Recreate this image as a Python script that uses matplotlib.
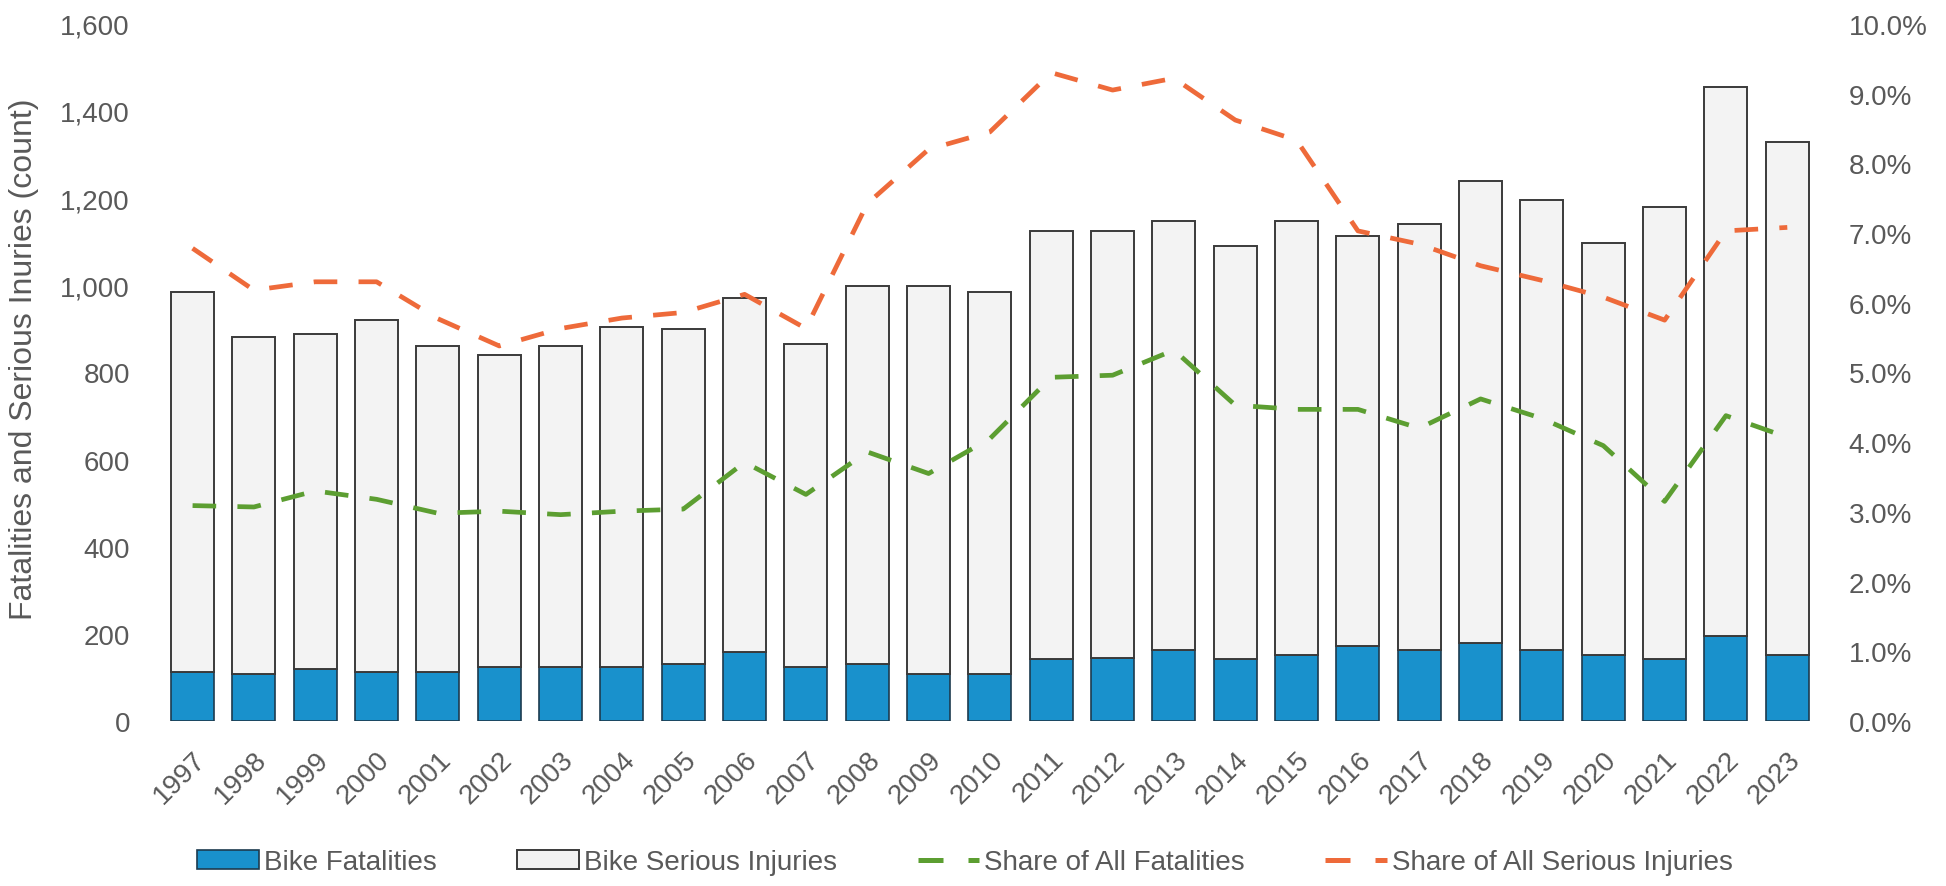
import numpy as np
import matplotlib.pyplot as plt
from matplotlib.patches import Patch
from matplotlib.lines import Line2D
from matplotlib.ticker import FuncFormatter

years = [str(y) for y in range(1997, 2024)]
bike_fatalities = [113, 109, 119, 113, 113, 123, 123, 123, 131, 159, 123, 131, 108, 108,
                   142, 145, 164, 142, 152, 173, 164, 178, 164, 152, 142, 196, 152]
bike_serious = [872, 772, 769, 807, 747, 716, 737, 781, 769, 812, 742, 867, 890, 877,
                982, 979, 983, 949, 995, 941, 977, 1062, 1032, 945, 1037, 1260, 1176]
share_fatalities = [3.09, 3.07, 3.30, 3.18, 2.98, 3.01, 2.96, 3.01, 3.04, 3.71, 3.25, 3.86,
                    3.55, 4.05, 4.93, 4.96, 5.32, 4.53, 4.47, 4.47, 4.20, 4.62, 4.34, 3.95,
                    3.15, 4.38, 4.07]
share_serious = [6.78, 6.18, 6.30, 6.30, 5.77, 5.38, 5.63, 5.78, 5.86, 6.12, 5.63, 7.42,
                 8.20, 8.45, 9.30, 9.05, 9.22, 8.62, 8.33, 7.03, 6.84, 6.53, 6.32, 6.08,
                 5.75, 7.03, 7.08]

blue = '#1991CC'
green = '#5C9E31'
orange = '#EE6A3A'
grey = '#595959'

plt.rcParams['font.family'] = ['Liberation Sans', 'DejaVu Sans']
fs = 20

fig = plt.figure(figsize=(19.46, 8.87), dpi=100)
ax = fig.add_axes([0.0832, 0.186, 0.851, 0.786])
ax2 = ax.twinx()

x = np.arange(len(years))
w = 0.70
ax.bar(x, bike_fatalities, w, color=blue, edgecolor='#1d3b4f', linewidth=1.2, zorder=2)
ax.bar(x, bike_serious, w, bottom=bike_fatalities, color='#f3f3f3',
       edgecolor='#3a3a3a', linewidth=1.4, zorder=2)

# share lines on the percent axis
ax2.plot(x, np.array(share_fatalities) / 100, color=green, lw=3.4,
         dashes=(5, 4.5), zorder=3)
ax2.plot(x, np.array(share_serious) / 100, color=orange, lw=3.4,
         dashes=(5, 4.5), zorder=3)

ax.set_xlim(-0.5, len(years) - 0.5)
ax.set_ylim(0, 1600)
ax.set_yticks(range(0, 1601, 200))
ax.yaxis.set_major_formatter(FuncFormatter(lambda v, p: f'{int(v):,}'))
ax2.set_ylim(0, 0.10)
ax2.set_yticks(np.arange(0, 0.1001, 0.01))
ax2.yaxis.set_major_formatter(FuncFormatter(lambda v, p: f'{v * 100:.1f}%'))

ax.set_xticks(x)
ax.set_xticklabels(years, rotation=45, ha='right', rotation_mode='anchor')

for a in (ax, ax2):
    for s in a.spines.values():
        s.set_visible(False)
    a.tick_params(length=0, labelsize=fs, colors=grey)
ax.tick_params(axis='y', pad=23)
ax2.tick_params(axis='y', pad=22)
ax.tick_params(axis='x', pad=18)

ax.set_ylabel('Fatalities and Serious Inuries (count)', fontsize=23, color=grey)
ax.yaxis.set_label_coords(-0.074, 0.52)

handles = [
    Patch(facecolor=blue, edgecolor='#1d3b4f', linewidth=1.2),
    Patch(facecolor='#f3f3f3', edgecolor='#3a3a3a', linewidth=1.4),
    Line2D([0], [0], color=green, lw=3.6, dashes=(5, 5)),
    Line2D([0], [0], color=orange, lw=3.6, dashes=(5, 5)),
]
labels = ['Bike Fatalities', 'Bike Serious Injuries', 'Share of All Fatalities',
          'Share of All Serious Injuries']
leg = fig.legend(handles, labels, loc='center', bbox_to_anchor=(0.496, 0.027), ncol=4,
                 frameon=False, fontsize=fs, handlelength=2.2, handleheight=0.65,
                 handletextpad=0.2, columnspacing=2.9)
for t in leg.get_texts():
    t.set_color(grey)

fig.savefig('out.png', dpi=100, facecolor='white')
